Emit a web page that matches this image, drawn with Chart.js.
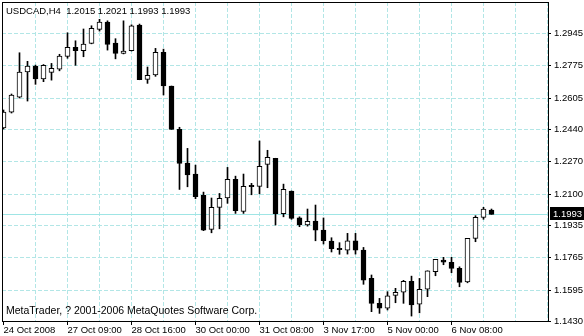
<!DOCTYPE html>
<html>
<head>
<meta charset="utf-8">
<title>USDCAD,H4</title>
<script src="https://cdn.jsdelivr.net/npm/chart.js@4"></script>
<style>
  html, body { margin: 0; padding: 0; background: #fff; }
  canvas { display: block; }
</style>
</head>
<body>
<canvas id="chart" width="584" height="336"></canvas>
<script>
// USDCAD H4 bars, 24 Oct 2008 .. 6 Nov 2008
const opens = [
  1.2447, 1.2530, 1.2610, 1.2742, 1.2773, 1.2706, 1.2740, 1.2757, 1.2824, 1.2871,
  1.2854, 1.2892, 1.2966, 1.3005, 1.2894, 1.2840, 1.2854, 1.2989, 1.2703, 1.2727,
  1.2845, 1.2668, 1.2440, 1.2263, 1.2205, 1.2093, 1.1914, 1.2030, 1.2080, 1.2177,
  1.2009, 1.2146, 1.2140, 1.2256, 1.2288, 1.1996, 1.2116, 1.1975, 1.1938, 1.1958,
  1.1910, 1.1853, 1.1814, 1.1805, 1.1854, 1.1805, 1.1656, 1.1525, 1.1499, 1.1567,
  1.1584, 1.1641, 1.1521, 1.1599, 1.1691, 1.1753, 1.1741, 1.1709, 1.1637, 1.1867,
  1.1977, 1.2015
];
const highs = [
  1.2542, 1.2626, 1.2843, 1.2798, 1.2778, 1.2781, 1.2787, 1.2835, 1.2948, 1.2906,
  1.2968, 1.2985, 1.3019, 1.3011, 1.2917, 1.3011, 1.2990, 1.2994, 1.2768, 1.2866,
  1.2862, 1.2668, 1.2451, 1.2340, 1.2252, 1.2110, 1.2079, 1.2103, 1.2240, 1.2194,
  1.2205, 1.2156, 1.2379, 1.2330, 1.2288, 1.2152, 1.2116, 1.1980, 1.2021, 1.2042,
  1.1974, 1.1870, 1.1844, 1.1893, 1.1893, 1.1819, 1.1674, 1.1551, 1.1586, 1.1604,
  1.1646, 1.1668, 1.1656, 1.1696, 1.1756, 1.1767, 1.1767, 1.1717, 1.1867, 1.1986,
  1.2030, 1.2021
];
const lows = [
  1.2442, 1.2526, 1.2605, 1.2589, 1.2677, 1.2691, 1.2699, 1.2748, 1.2814, 1.2777,
  1.2822, 1.2890, 1.2957, 1.2857, 1.2811, 1.2837, 1.2852, 1.2701, 1.2682, 1.2719,
  1.2621, 1.2440, 1.2124, 1.2138, 1.2075, 1.1907, 1.1896, 1.1917, 1.2051, 1.1998,
  1.1998, 1.2096, 1.2101, 1.2133, 1.1937, 1.1980, 1.1967, 1.1928, 1.1931, 1.1854,
  1.1837, 1.1795, 1.1783, 1.1784, 1.1784, 1.1625, 1.1481, 1.1472, 1.1490, 1.1528,
  1.1525, 1.1458, 1.1475, 1.1560, 1.1670, 1.1728, 1.1686, 1.1612, 1.1633, 1.1849,
  1.1967, 1.1993
];
const closes = [
  1.2531, 1.2621, 1.2742, 1.2773, 1.2706, 1.2777, 1.2761, 1.2826, 1.2871, 1.2854,
  1.2889, 1.2971, 1.3005, 1.2887, 1.2840, 1.2852, 1.2985, 1.2701, 1.2724, 1.2845,
  1.2668, 1.2440, 1.2261, 1.2201, 1.2086, 1.1910, 1.2030, 1.2077, 1.2177, 1.2012,
  1.2140, 1.2138, 1.2246, 1.2293, 1.1996, 1.2124, 1.1972, 1.1938, 1.1956, 1.1910,
  1.1854, 1.1812, 1.1807, 1.1854, 1.1805, 1.1647, 1.1525, 1.1499, 1.1565, 1.1583,
  1.1641, 1.1516, 1.1599, 1.1696, 1.1756, 1.1742, 1.1709, 1.1635, 1.1867, 1.1977,
  1.2021, 1.1993
];

// bottom axis: a label every 8 bars, starting at bar 0
const timeLabels = ['24 Oct 2008', '27 Oct 09:00', '28 Oct 16:00', '30 Oct 00:00',
  '31 Oct 08:00', '3 Nov 17:00', '5 Nov 00:00', '6 Nov 08:00'];
const priceLabels = ['1.2945', '1.2775', '1.2605', '1.2440', '1.2270',
  '1.2100', '1.1935', '1.1765', '1.1595', '1.1430'];

const symbolTitle = 'USDCAD,H4';
const copyright = 'MetaTrader, ? 2001-2006 MetaQuotes Software Corp.';
const bid = closes[closes.length - 1];

const gridColor = '#b2e6e6';
const bidColor = '#9fe5e5';
const font = '"Liberation Sans", Arial, sans-serif';

// 8 px per bar, chart shifted so empty space remains at the right
const xMin = -0.1875;
const xMax = 68.0625;
const yMin = 1.1432;
const yMax = 1.3110;

const wickData = highs.map((h, i) => ({ x: i, y: [lows[i], h] }));
const bodyData = opens.map((o, i) => ({ x: i, y: [o, closes[i]] }));

const decor = {
  id: 'decor',
  beforeDatasetsDraw(chart) {
    const { ctx, chartArea: a, scales: { y } } = chart;
    const py = Math.round(y.getPixelForValue(bid)) + 0.5;
    ctx.save();
    ctx.strokeStyle = bidColor;
    ctx.lineWidth = 1;
    ctx.beginPath();
    ctx.moveTo(a.left, py);
    ctx.lineTo(a.right, py);
    ctx.stroke();
    ctx.restore();
  },
  afterDraw(chart) {
    const { ctx, chartArea: a, scales: { y } } = chart;
    ctx.save();
    ctx.strokeStyle = '#000';
    ctx.lineWidth = 1;
    ctx.strokeRect(a.left + 0.5, a.top + 0.5, a.right - a.left, a.bottom - a.top);

    ctx.fillStyle = '#000';
    ctx.textBaseline = 'alphabetic';
    ctx.font = '9.5px ' + font;
    const ohlc = [opens, highs, lows, closes].map(s => s[s.length - 1].toFixed(4)).join(' ');
    ctx.fillText(symbolTitle + '  ' + ohlc, 6, 14);
    ctx.font = '10.5px ' + font;
    ctx.fillText(copyright, 6, 314);

    // bid price tag on the price scale
    const py = Math.round(y.getPixelForValue(bid));
    ctx.fillRect(a.right + 2, py - 7, chart.width - a.right - 2, 13);
    ctx.fillStyle = '#fff';
    ctx.font = '9.5px ' + font;
    ctx.fillText(bid.toFixed(4), a.right + 5, py + 3);
    ctx.restore();
  }
};

new Chart(document.getElementById('chart'), {
  type: 'bar',
  data: {
    datasets: [
      {
        label: 'wick',
        data: wickData,
        backgroundColor: '#000',
        borderWidth: 0,
        grouped: false,
        categoryPercentage: 1,
        barPercentage: 1,
        maxBarThickness: 1,
        order: 2,
      },
      {
        label: 'body',
        data: bodyData,
        backgroundColor: (c) => (closes[c.dataIndex] >= opens[c.dataIndex] ? '#fff' : '#000'),
        borderColor: '#000',
        borderWidth: 1,
        borderSkipped: false,
        grouped: false,
        categoryPercentage: 1,
        barPercentage: 1,
        maxBarThickness: 5,
        minBarLength: 1,
        order: 1,
      },
    ],
  },
  options: {
    responsive: false,
    animation: false,
    layout: { padding: { left: 2, top: 2, right: 0, bottom: 0 } },
    plugins: {
      legend: { display: false },
      tooltip: { enabled: false },
    },
    scales: {
      x: {
        type: 'linear',
        min: xMin,
        max: xMax,
        offset: false,
        grid: {
          offset: false,
          color: (c) => (c.tick && c.tick.value === 0 ? 'rgba(0,0,0,0)' : gridColor),
          tickColor: (c) => (c.tick && c.tick.value % 8 === 0 && c.tick.value / 8 < timeLabels.length ? '#000' : 'rgba(0,0,0,0)'),
          tickLength: 4,
        },
        border: { display: false, dash: [4, 2] },
        ticks: {
          autoSkip: false,
          maxRotation: 0,
          align: 'start',
          padding: 0,
          color: '#000',
          font: { family: font, size: 9.5 },
          callback: (v) => (v % 8 === 0 ? (timeLabels[v / 8] || '') : ''),
        },
        afterBuildTicks: (scale) => {
          const ticks = [];
          for (let i = 0; i <= 68; i += 4) ticks.push({ value: i });
          scale.ticks = ticks;
        },
        afterFit: (scale) => {
          scale.height = 15;
          scale.paddingLeft = 0;
          scale.paddingRight = 0;
        },
      },
      y: {
        position: 'right',
        min: yMin,
        max: yMax,
        beginAtZero: false,
        grid: {
          color: (c) => (c.tick && c.tick.value <= yMin ? 'rgba(0,0,0,0)' : gridColor),
          tickColor: '#000',
          tickLength: 3,
        },
        border: { display: false, dash: [4, 2] },
        ticks: {
          padding: 3,
          color: '#000',
          font: { family: font, size: 9.5 },
          callback: (v, i) => priceLabels[priceLabels.length - 1 - i],
        },
        afterBuildTicks: (scale) => {
          scale.ticks = priceLabels.slice().reverse()
            .map(t => ({ value: Math.max(parseFloat(t), yMin) }));
        },
        afterFit: (scale) => {
          scale.width = 36;
          scale.paddingTop = 0;
          scale.paddingBottom = 0;
        },
      },
    },
  },
  plugins: [decor],
});
</script>
</body>
</html>
